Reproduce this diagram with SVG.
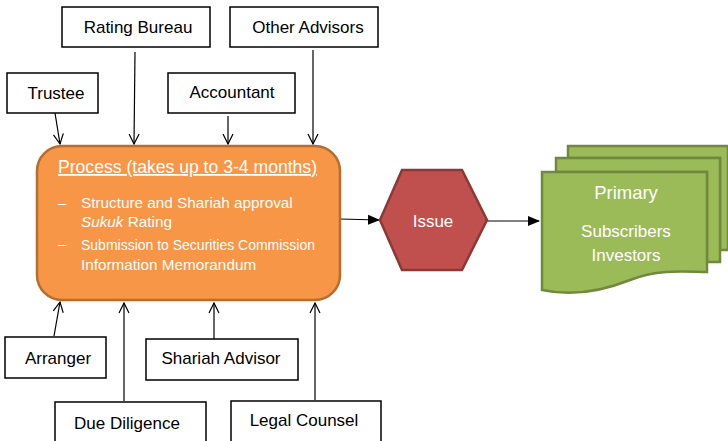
<svg xmlns="http://www.w3.org/2000/svg" width="728" height="441" viewBox="0 0 728 441">
<defs>
<style>
.box{fill:#fff;stroke:#000;stroke-width:1.5}
.lbl{font-family:"Liberation Sans",Arial,sans-serif;font-size:17px;fill:#000;text-anchor:middle}
.wt{font-family:"Liberation Sans",Arial,sans-serif;fill:#fff}
.con{stroke:#000;stroke-width:1.2;fill:none}
.doc{fill:#9BBB59;stroke:#71893F;stroke-width:2.5}
</style>
<marker id="open" viewBox="0 0 12 12" refX="11" refY="6" markerWidth="12" markerHeight="12" markerUnits="userSpaceOnUse" orient="auto">
<path d="M1,1 L11,6 L1,11" fill="none" stroke="#000" stroke-width="1.2"/>
</marker>
<marker id="solid" viewBox="0 0 12 12" refX="11" refY="6" markerWidth="12" markerHeight="12" markerUnits="userSpaceOnUse" orient="auto">
<path d="M0,1 L12,6 L0,11 Z" fill="#000"/>
</marker>
</defs>
<rect width="728" height="441" fill="#fff"/>
<g id="connectors">
<line class="con" x1="55" y1="113" x2="60" y2="144" marker-end="url(#open)"/>
<line class="con" x1="135" y1="52" x2="134" y2="144" marker-end="url(#open)"/>
<line class="con" x1="228" y1="116" x2="228" y2="144" marker-end="url(#open)"/>
<line class="con" x1="313" y1="50" x2="313" y2="144" marker-end="url(#open)"/>
<line class="con" x1="54" y1="336" x2="60" y2="302" marker-end="url(#open)"/>
<line class="con" x1="124" y1="401" x2="124" y2="303" marker-end="url(#open)"/>
<line class="con" x1="214" y1="339" x2="214" y2="303" marker-end="url(#open)"/>
<line class="con" x1="315" y1="400" x2="315" y2="303" marker-end="url(#open)"/>
<line class="con" x1="340" y1="219" x2="379" y2="220" marker-end="url(#solid)"/>
<line class="con" x1="487" y1="221" x2="539" y2="221" marker-end="url(#solid)"/>
</g>
<g id="rating-bureau"><rect class="box" x="62" y="7" width="148" height="40"/><text class="lbl" x="138" y="33">Rating Bureau</text></g>
<g id="other-advisors"><rect class="box" x="230" y="7" width="148" height="40"/><text class="lbl" x="308" y="33">Other Advisors</text></g>
<g id="trustee"><rect class="box" x="7" y="73" width="91" height="40"/><text class="lbl" x="56" y="99">Trustee</text></g>
<g id="accountant"><rect class="box" x="168" y="73" width="127" height="40"/><text class="lbl" x="232" y="98">Accountant</text></g>
<g id="arranger"><rect class="box" x="5" y="337" width="101" height="41"/><text class="lbl" x="58" y="364">Arranger</text></g>
<g id="shariah-advisor"><rect class="box" x="146" y="339" width="152" height="41"/><text class="lbl" x="221" y="364">Shariah Advisor</text></g>
<g id="due-diligence"><rect class="box" x="55" y="402" width="151" height="42"/><text class="lbl" x="127" y="429">Due Diligence</text></g>
<g id="legal-counsel"><rect class="box" x="231" y="401" width="150" height="43"/><text class="lbl" x="304" y="426">Legal Counsel</text></g>
<g id="process">
<rect x="37" y="146" width="303" height="154" rx="25" ry="25" fill="#F79646" stroke="#B66D31" stroke-width="2.5"/>
<text class="wt" x="58" y="173" font-size="17.5" text-decoration="underline" textLength="259" lengthAdjust="spacingAndGlyphs">Process (takes up to 3-4 months)</text>
<text class="wt" x="58" y="208" font-size="15">–</text>
<text class="wt" x="81" y="208" font-size="15.3">Structure and Shariah approval</text>
<text class="wt" x="81" y="227" font-size="15.3"><tspan font-style="italic">Sukuk</tspan> Rating</text>
<text class="wt" x="58" y="249" font-size="15">–</text>
<text class="wt" x="81" y="250" font-size="15" textLength="234" lengthAdjust="spacingAndGlyphs">Submission to Securities Commission</text>
<text class="wt" x="81" y="270" font-size="15.3">Information Memorandum</text>
</g>
<g id="issue">
<polygon points="380,220 402,170 462,170 487,220 462,270 402,270" fill="#C0504D" stroke="#8C3836" stroke-width="2.5"/>
<text class="wt" x="433" y="227" font-size="17" text-anchor="middle">Issue</text>
</g>
<g id="investors">
<path class="doc" d="M568,146 H728 V250 H720 V158 H568 Z"/>
<path class="doc" d="M556,158 H720 V262 H707 V172 H556 Z"/>
<path class="doc" d="M542,172 H707 V272 C690,272 660,268 630,280 C600,292 570,296 542,290 Z"/>
<text class="wt" x="626" y="199" font-size="18.5" text-anchor="middle">Primary</text>
<text class="wt" x="626" y="237" font-size="17" text-anchor="middle">Subscribers</text>
<text class="wt" x="626" y="261" font-size="17" text-anchor="middle">Investors</text>
</g>
</svg>
